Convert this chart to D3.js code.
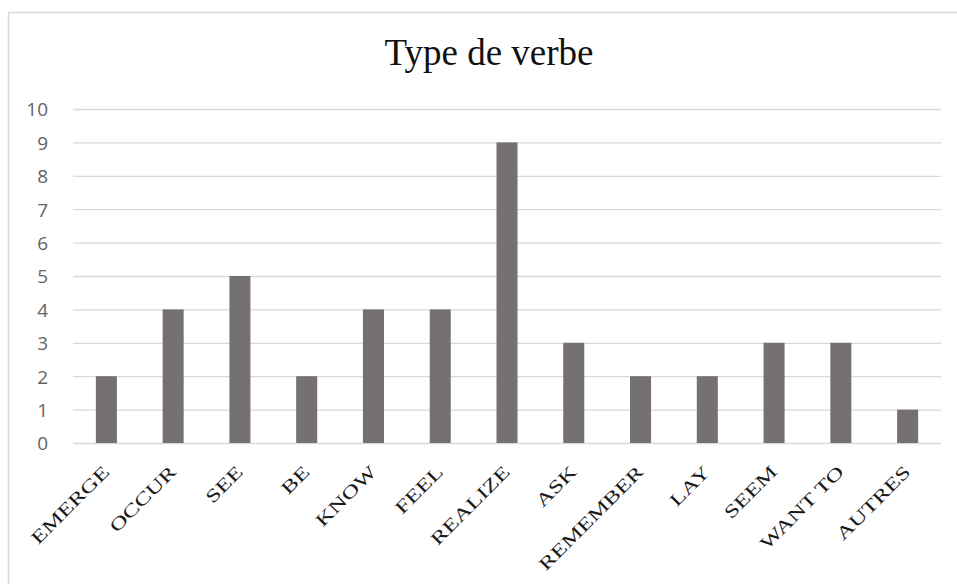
<!DOCTYPE html>
<html>
<head>
<meta charset="utf-8">
<script src="https://cdn.jsdelivr.net/npm/d3@7"></script>
<style>
  body { margin: 0; background: #fff; }
  svg { display: block; }
</style>
</head>
<body>
<script>
'use strict';

const categories = ['EMERGE', 'OCCUR', 'SEE', 'BE', 'KNOW', 'FEEL', 'REALIZE',
  'ASK', 'REMEMBER', 'LAY', 'SEEM', 'WANT TO', 'AUTRES'];
const counts = [2, 4, 5, 2, 4, 4, 9, 3, 2, 2, 3, 3, 1];
const yTicks = d3.range(0, 11);

const width = 957, height = 584;
const plot = { left: 73, right: 941, top: 109, bottom: 443 };

const $svg = d3.select('body').append('svg')
  .attr('width', width)
  .attr('height', height);

// chart frame
$svg.append('rect')
  .attr('x', 8.5).attr('y', 12.5)
  .attr('width', width + 10).attr('height', height + 10)
  .attr('fill', 'none')
  .attr('stroke', '#d9d9d9')
  .attr('stroke-width', 1.5);

$svg.append('text')
  .attr('x', 489).attr('y', 65)
  .attr('text-anchor', 'middle')
  .style('font-family', '"Liberation Serif", "Times New Roman", serif')
  .style('font-size', '37px')
  .attr('fill', '#111')
  .text('Type de verbe');

const x = d3.scaleBand()
  .domain(categories)
  .range([plot.left, plot.right])
  .paddingInner(0.685)
  .paddingOuter(0.3425);

const y = d3.scaleLinear()
  .domain([0, 10])
  .range([plot.bottom, plot.top]);

// gridlines
$svg.append('g').selectAll('line')
  .data(yTicks)
  .enter()
  .append('line')
  .attr('x1', plot.left).attr('x2', plot.right)
  .attr('y1', (d) => y(d) + 0.5).attr('y2', (d) => y(d) + 0.5)
  .attr('stroke', '#d9d9d9')
  .attr('stroke-width', 1.3);

// y axis labels
const yAxis = d3.axisLeft(y).tickValues(yTicks).tickSize(0).tickPadding(0);
const $yAxis = $svg.append('g')
  .attr('transform', 'translate(48,0)')
  .call(yAxis);
$yAxis.select('.domain').remove();
$yAxis.selectAll('text')
  .attr('dy', '0.36em')
  .style('font-family', '"Open Sans", "Liberation Sans", sans-serif')
  .style('font-size', '19px')
  .attr('fill', '#646464');

// bars
$svg.append('g').selectAll('rect')
  .data(categories)
  .enter()
  .append('rect')
  .attr('x', (d) => x(d))
  .attr('y', (d, i) => y(counts[i]))
  .attr('width', x.bandwidth())
  .attr('height', (d, i) => y(0) - y(counts[i]))
  .attr('fill', '#767171');

// x axis labels (stretched along the text direction, like the source)
const xAxis = d3.axisBottom(x).tickSize(0).tickPadding(0);
const $xAxis = $svg.append('g')
  .attr('transform', `translate(0,${plot.bottom})`)
  .call(xAxis);
$xAxis.select('.domain').remove();
$xAxis.selectAll('text')
  .attr('text-anchor', 'end')
  .attr('dy', 0)
  .style('font-family', '"Liberation Serif", "Times New Roman", serif')
  .style('font-size', '18px')
  .attr('fill', '#1a1a1a')
  .attr('transform', 'translate(4,30) rotate(-45) scale(1.38,1)');
</script>
</body>
</html>
